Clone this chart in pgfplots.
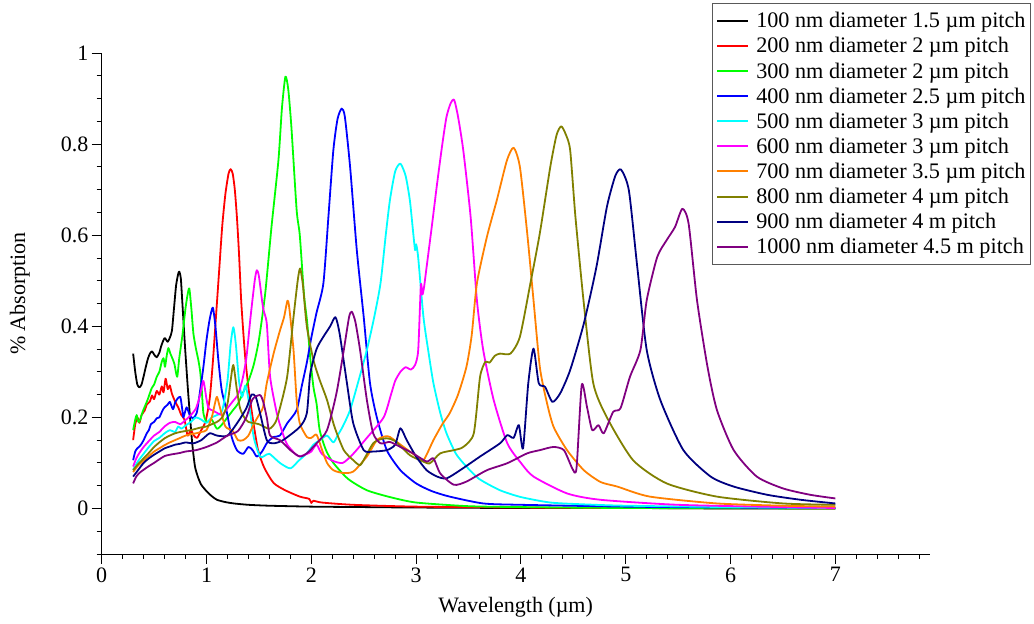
\documentclass[border=0pt]{standalone}
\usepackage{fontspec}
\setmainfont{Liberation Serif}
\usepackage{pgfplots}
\pgfplotsset{compat=1.18}
\definecolor{cOrange}{RGB}{255,128,0}
\definecolor{cOlive}{RGB}{128,128,0}
\definecolor{cNavy}{RGB}{0,0,128}
\definecolor{cPurple}{RGB}{128,0,128}
\definecolor{cGreen}{RGB}{0,255,0}
\definecolor{cCyan}{RGB}{0,255,255}
\definecolor{cMagenta}{RGB}{255,0,255}
\begin{document}
\begin{tikzpicture}
\begin{axis}[
 name=ax, at={(0pt,0pt)}, anchor=south west,
 scale only axis, width=828pt, height=501pt,
 xmin=0, xmax=7.9, ymin=-0.1, ymax=1,
 axis x line*=bottom, axis y line*=left,
 axis line style={line width=1pt},
 xtick={0,1,2,3,4,5,6,7}, ytick={0,0.2,0.4,0.6,0.8,1},
 minor xtick={0,0.2,...,7.81}, minor ytick={-0.1,-0.05,...,1.001},
 tick align=outside, major tick length=10pt, minor tick length=5pt,
 tick style={line width=0.9pt, black},
 /pgf/number format/assume math mode=true,
 yticklabel style={/pgf/number format/fixed, inner xsep=3pt},
 tick label style={font=\fontsize{22}{26}\selectfont},
 xlabel={Wavelength (µm)}, ylabel={\% Absorption},
 every axis x label/.style={at={(axis description cs:0.5,-0.106)},anchor=center,font=\fontsize{22}{26}\selectfont},
 every axis y label/.style={at={(axis description cs:-0.099,0.52)},rotate=90,anchor=center,font=\fontsize{22}{26}\selectfont},
 legend cell align=left,
 legend image code/.code={\draw[#1, line width=2pt] (0pt,0pt) -- (31pt,0pt);},
 legend style={at={(axis description cs:1.1223,1.0998)}, anchor=north east,
   draw=black!65, line width=0.8pt, inner xsep=4pt, inner ysep=7pt,
   font=\fontsize{22.2}{26}\selectfont, row sep=4.2pt, column sep=6pt,
   nodes={inner xsep=1pt}},
 every axis plot/.append style={line width=1.8pt, line join=round, smooth, tension=0.4},
]
\addplot[black] coordinates {(0.30,0.340)(0.32,0.300)(0.34,0.272)(0.36,0.266)(0.38,0.272)(0.40,0.290)(0.42,0.310)(0.44,0.328)(0.46,0.340)(0.48,0.345)(0.50,0.338)(0.525,0.332)(0.55,0.342)(0.57,0.358)(0.60,0.374)(0.63,0.366)(0.65,0.375)(0.67,0.390)(0.69,0.440)(0.71,0.490)(0.73,0.515)(0.74,0.520)(0.755,0.505)(0.77,0.450)(0.795,0.355)(0.82,0.270)(0.843,0.200)(0.865,0.140)(0.89,0.092)(0.92,0.068)(0.95,0.052)(1.00,0.038)(1.05,0.027)(1.10,0.019)(1.18,0.014)(1.26,0.011)(1.40,0.008)(1.60,0.006)(2.00,0.004)(2.50,0.003)(3.00,0.002)(4.00,0.001)(5.00,0.001)(6.00,0.000)(7.00,0.000)};
\addlegendentry{100 nm diameter 1.5 µm pitch}
\addplot[red] coordinates {(0.30,0.150)(0.32,0.185)(0.34,0.200)(0.36,0.188)(0.38,0.205)(0.41,0.215)(0.43,0.228)(0.46,0.235)(0.48,0.248)(0.50,0.240)(0.525,0.258)(0.55,0.250)(0.573,0.268)(0.59,0.255)(0.61,0.285)(0.63,0.262)(0.65,0.270)(0.67,0.252)(0.70,0.235)(0.73,0.222)(0.76,0.205)(0.79,0.195)(0.82,0.160)(0.85,0.172)(0.88,0.160)(0.91,0.155)(0.95,0.172)(0.99,0.190)(1.03,0.240)(1.06,0.320)(1.09,0.420)(1.12,0.520)(1.15,0.620)(1.18,0.690)(1.21,0.735)(1.23,0.745)(1.25,0.735)(1.27,0.700)(1.29,0.640)(1.31,0.560)(1.33,0.460)(1.35,0.390)(1.37,0.330)(1.40,0.265)(1.44,0.200)(1.49,0.130)(1.55,0.090)(1.64,0.056)(1.75,0.040)(1.89,0.026)(1.98,0.021)(2.00,0.012)(2.02,0.017)(2.10,0.013)(2.40,0.008)(3.00,0.004)(4.00,0.002)(5.00,0.001)(7.00,0.000)};
\addlegendentry{200 nm diameter 2 µm pitch}
\addplot[cGreen] coordinates {(0.30,0.172)(0.32,0.195)(0.334,0.205)(0.35,0.190)(0.366,0.194)(0.39,0.212)(0.41,0.223)(0.44,0.240)(0.477,0.264)(0.50,0.272)(0.525,0.289)(0.55,0.300)(0.573,0.322)(0.59,0.330)(0.604,0.311)(0.62,0.335)(0.636,0.352)(0.655,0.340)(0.668,0.333)(0.693,0.318)(0.72,0.289)(0.74,0.330)(0.77,0.380)(0.80,0.440)(0.82,0.470)(0.836,0.483)(0.855,0.440)(0.875,0.384)(0.90,0.350)(0.922,0.326)(0.94,0.300)(0.955,0.260)(0.97,0.210)(1.00,0.190)(1.05,0.195)(1.10,0.175)(1.15,0.185)(1.20,0.200)(1.25,0.215)(1.30,0.230)(1.35,0.255)(1.40,0.280)(1.45,0.315)(1.50,0.370)(1.56,0.472)(1.62,0.618)(1.686,0.764)(1.72,0.880)(1.753,0.948)(1.78,0.920)(1.81,0.837)(1.86,0.655)(1.89,0.600)(1.93,0.470)(1.96,0.410)(1.99,0.330)(2.02,0.267)(2.05,0.230)(2.08,0.172)(2.14,0.128)(2.21,0.100)(2.35,0.065)(2.53,0.040)(2.75,0.025)(3.00,0.013)(3.50,0.005)(4.00,0.003)(5.00,0.001)(7.00,0.000)};
\addlegendentry{300 nm diameter 2 µm pitch}
\addplot[blue] coordinates {(0.30,0.106)(0.32,0.125)(0.34,0.132)(0.36,0.136)(0.38,0.142)(0.40,0.150)(0.43,0.165)(0.45,0.172)(0.47,0.185)(0.50,0.190)(0.525,0.198)(0.55,0.200)(0.58,0.215)(0.60,0.222)(0.63,0.228)(0.65,0.234)(0.68,0.218)(0.70,0.232)(0.72,0.240)(0.75,0.245)(0.77,0.215)(0.78,0.200)(0.81,0.222)(0.84,0.205)(0.87,0.198)(0.907,0.210)(0.94,0.260)(0.97,0.310)(1.00,0.370)(1.03,0.415)(1.06,0.441)(1.085,0.400)(1.113,0.326)(1.145,0.260)(1.19,0.216)(1.24,0.157)(1.29,0.128)(1.35,0.120)(1.40,0.135)(1.44,0.128)(1.48,0.114)(1.53,0.125)(1.58,0.145)(1.64,0.157)(1.70,0.160)(1.77,0.187)(1.86,0.216)(1.91,0.270)(1.957,0.320)(2.00,0.375)(2.05,0.430)(2.115,0.494)(2.163,0.640)(2.21,0.786)(2.25,0.855)(2.29,0.878)(2.32,0.860)(2.37,0.750)(2.434,0.567)(2.50,0.420)(2.56,0.275)(2.625,0.200)(2.72,0.128)(2.85,0.084)(3.00,0.055)(3.15,0.038)(3.32,0.026)(3.64,0.011)(4.00,0.008)(5.00,0.004)(6.00,0.002)(7.00,0.001)};
\addlegendentry{400 nm diameter 2.5 µm pitch}
\addplot[cCyan] coordinates {(0.30,0.085)(0.35,0.105)(0.40,0.120)(0.45,0.135)(0.50,0.148)(0.55,0.155)(0.60,0.165)(0.65,0.172)(0.70,0.168)(0.73,0.180)(0.76,0.175)(0.80,0.182)(0.85,0.190)(0.90,0.200)(0.95,0.195)(1.00,0.188)(1.05,0.200)(1.10,0.205)(1.15,0.215)(1.20,0.280)(1.23,0.360)(1.256,0.398)(1.28,0.360)(1.31,0.280)(1.34,0.245)(1.37,0.270)(1.40,0.240)(1.45,0.157)(1.51,0.114)(1.55,0.115)(1.60,0.120)(1.70,0.100)(1.80,0.088)(1.88,0.105)(1.957,0.121)(2.02,0.140)(2.08,0.150)(2.15,0.160)(2.21,0.145)(2.25,0.160)(2.30,0.180)(2.37,0.216)(2.45,0.280)(2.53,0.348)(2.60,0.420)(2.66,0.494)(2.71,0.600)(2.75,0.677)(2.80,0.740)(2.85,0.757)(2.90,0.730)(2.94,0.677)(2.97,0.610)(2.99,0.567)(3.00,0.580)(3.02,0.550)(3.07,0.420)(3.12,0.340)(3.165,0.275)(3.23,0.210)(3.29,0.165)(3.38,0.120)(3.48,0.092)(3.60,0.065)(3.80,0.040)(4.00,0.025)(4.28,0.013)(4.60,0.009)(5.00,0.006)(6.00,0.003)(7.00,0.001)};
\addlegendentry{500 nm diameter 3 µm pitch}
\addplot[cMagenta] coordinates {(0.30,0.092)(0.33,0.110)(0.36,0.122)(0.40,0.135)(0.45,0.148)(0.50,0.160)(0.55,0.168)(0.60,0.180)(0.65,0.188)(0.70,0.190)(0.75,0.185)(0.80,0.194)(0.85,0.205)(0.90,0.220)(0.94,0.250)(0.97,0.280)(1.00,0.240)(1.02,0.220)(1.06,0.215)(1.10,0.210)(1.15,0.205)(1.20,0.220)(1.25,0.235)(1.30,0.250)(1.34,0.280)(1.38,0.330)(1.42,0.420)(1.46,0.500)(1.48,0.523)(1.50,0.510)(1.54,0.440)(1.575,0.406)(1.607,0.289)(1.67,0.210)(1.72,0.170)(1.77,0.140)(1.86,0.117)(1.90,0.115)(1.96,0.120)(2.00,0.125)(2.05,0.140)(2.10,0.120)(2.20,0.105)(2.30,0.100)(2.40,0.120)(2.53,0.155)(2.69,0.200)(2.76,0.250)(2.80,0.280)(2.85,0.300)(2.90,0.310)(2.95,0.305)(2.99,0.315)(3.02,0.348)(3.045,0.490)(3.06,0.470)(3.075,0.485)(3.10,0.530)(3.15,0.620)(3.20,0.713)(3.25,0.800)(3.29,0.860)(3.33,0.890)(3.363,0.897)(3.40,0.860)(3.45,0.786)(3.52,0.640)(3.58,0.457)(3.64,0.348)(3.74,0.238)(3.87,0.143)(4.00,0.100)(4.12,0.070)(4.44,0.033)(4.76,0.019)(5.50,0.008)(6.50,0.003)(7.00,0.001)};
\addlegendentry{600 nm diameter 3 µm pitch}
\addplot[cOrange] coordinates {(0.30,0.080)(0.35,0.095)(0.40,0.105)(0.45,0.115)(0.50,0.125)(0.55,0.132)(0.60,0.139)(0.65,0.145)(0.70,0.150)(0.75,0.155)(0.80,0.160)(0.85,0.163)(0.90,0.165)(0.95,0.168)(1.00,0.172)(1.05,0.200)(1.08,0.230)(1.10,0.245)(1.13,0.220)(1.18,0.180)(1.25,0.170)(1.30,0.150)(1.35,0.150)(1.40,0.160)(1.45,0.185)(1.50,0.205)(1.54,0.223)(1.575,0.275)(1.64,0.340)(1.70,0.390)(1.74,0.420)(1.772,0.456)(1.79,0.440)(1.83,0.348)(1.86,0.238)(1.89,0.187)(1.957,0.157)(2.00,0.155)(2.05,0.162)(2.10,0.130)(2.15,0.100)(2.21,0.084)(2.30,0.078)(2.40,0.081)(2.53,0.114)(2.625,0.150)(2.70,0.158)(2.75,0.157)(2.88,0.135)(3.00,0.115)(3.07,0.106)(3.165,0.150)(3.25,0.185)(3.32,0.209)(3.40,0.250)(3.48,0.311)(3.53,0.380)(3.58,0.494)(3.675,0.596)(3.77,0.677)(3.866,0.764)(3.93,0.792)(3.99,0.750)(4.06,0.604)(4.12,0.457)(4.18,0.311)(4.24,0.240)(4.31,0.180)(4.44,0.128)(4.60,0.084)(4.76,0.058)(4.92,0.048)(5.23,0.026)(5.87,0.011)(6.50,0.006)(7.00,0.004)};
\addlegendentry{700 nm diameter 3.5 µm pitch}
\addplot[cOlive] coordinates {(0.30,0.084)(0.35,0.098)(0.40,0.110)(0.45,0.122)(0.50,0.135)(0.55,0.145)(0.60,0.154)(0.65,0.160)(0.70,0.165)(0.75,0.168)(0.80,0.170)(0.85,0.172)(0.90,0.175)(0.95,0.178)(1.00,0.180)(1.05,0.185)(1.10,0.190)(1.15,0.200)(1.20,0.230)(1.23,0.280)(1.256,0.315)(1.29,0.260)(1.32,0.220)(1.36,0.200)(1.40,0.190)(1.50,0.185)(1.60,0.175)(1.66,0.190)(1.70,0.220)(1.77,0.290)(1.83,0.420)(1.87,0.500)(1.893,0.527)(1.92,0.490)(1.957,0.400)(2.02,0.326)(2.08,0.282)(2.15,0.238)(2.22,0.180)(2.31,0.128)(2.40,0.106)(2.465,0.095)(2.52,0.115)(2.59,0.143)(2.66,0.152)(2.72,0.154)(2.80,0.148)(2.94,0.117)(3.05,0.105)(3.13,0.099)(3.23,0.121)(3.36,0.128)(3.45,0.135)(3.55,0.165)(3.61,0.289)(3.66,0.322)(3.70,0.320)(3.75,0.335)(3.80,0.340)(3.90,0.340)(3.99,0.377)(4.09,0.494)(4.18,0.604)(4.28,0.750)(4.34,0.820)(4.385,0.839)(4.43,0.820)(4.47,0.786)(4.52,0.640)(4.60,0.450)(4.69,0.275)(4.82,0.200)(5.07,0.106)(5.39,0.055)(5.87,0.026)(6.50,0.011)(7.00,0.008)};
\addlegendentry{800 nm diameter 4 µm pitch}
\addplot[cNavy] coordinates {(0.30,0.070)(0.35,0.085)(0.40,0.100)(0.45,0.110)(0.50,0.118)(0.55,0.125)(0.60,0.132)(0.65,0.136)(0.70,0.140)(0.75,0.142)(0.80,0.145)(0.875,0.143)(0.95,0.150)(1.03,0.165)(1.10,0.160)(1.20,0.160)(1.30,0.190)(1.38,0.220)(1.43,0.250)(1.47,0.245)(1.51,0.210)(1.575,0.150)(1.64,0.143)(1.73,0.150)(1.89,0.179)(1.957,0.209)(1.99,0.296)(2.05,0.350)(2.115,0.377)(2.18,0.400)(2.23,0.420)(2.27,0.384)(2.34,0.275)(2.40,0.187)(2.50,0.128)(2.59,0.125)(2.72,0.128)(2.80,0.140)(2.85,0.176)(2.91,0.150)(3.00,0.114)(3.10,0.084)(3.20,0.070)(3.29,0.066)(3.42,0.084)(3.61,0.114)(3.80,0.143)(3.87,0.161)(3.93,0.155)(3.98,0.183)(4.02,0.132)(4.07,0.275)(4.12,0.351)(4.17,0.275)(4.23,0.267)(4.30,0.234)(4.375,0.253)(4.47,0.304)(4.60,0.406)(4.72,0.530)(4.82,0.662)(4.90,0.730)(4.955,0.744)(5.03,0.698)(5.11,0.530)(5.20,0.348)(5.33,0.238)(5.55,0.128)(5.81,0.070)(6.03,0.048)(6.35,0.030)(6.67,0.019)(7.00,0.011)};
\addlegendentry{900 nm diameter 4 m pitch}
\addplot[cPurple] coordinates {(0.30,0.055)(0.33,0.070)(0.36,0.078)(0.40,0.085)(0.45,0.093)(0.50,0.100)(0.55,0.108)(0.60,0.115)(0.65,0.118)(0.70,0.120)(0.75,0.122)(0.80,0.125)(0.90,0.128)(1.00,0.135)(1.10,0.145)(1.20,0.160)(1.30,0.170)(1.38,0.200)(1.44,0.240)(1.51,0.249)(1.54,0.235)(1.575,0.200)(1.607,0.160)(1.70,0.150)(1.80,0.128)(1.89,0.114)(1.957,0.121)(2.05,0.143)(2.15,0.172)(2.24,0.253)(2.31,0.348)(2.36,0.420)(2.386,0.432)(2.42,0.410)(2.465,0.348)(2.53,0.238)(2.59,0.165)(2.66,0.143)(2.75,0.146)(2.85,0.135)(2.97,0.121)(3.10,0.103)(3.165,0.110)(3.23,0.077)(3.36,0.052)(3.48,0.059)(3.675,0.084)(3.866,0.099)(4.06,0.121)(4.18,0.128)(4.31,0.135)(4.41,0.128)(4.49,0.088)(4.53,0.088)(4.58,0.271)(4.63,0.223)(4.68,0.172)(4.74,0.183)(4.79,0.165)(4.88,0.212)(4.95,0.220)(5.04,0.289)(5.14,0.348)(5.20,0.457)(5.30,0.552)(5.39,0.589)(5.47,0.618)(5.54,0.658)(5.60,0.625)(5.68,0.457)(5.78,0.311)(5.87,0.216)(6.03,0.128)(6.25,0.070)(6.50,0.044)(6.76,0.030)(7.00,0.022)};
\addlegendentry{1000 nm diameter 4.5 m pitch}
\end{axis}
\pgfresetboundingbox
\path[use as bounding box] ([shift={(-101.7pt,-70pt)}]ax.south west) rectangle ([shift={(932.3pt,554pt)}]ax.south west);
\end{tikzpicture}
\end{document}
